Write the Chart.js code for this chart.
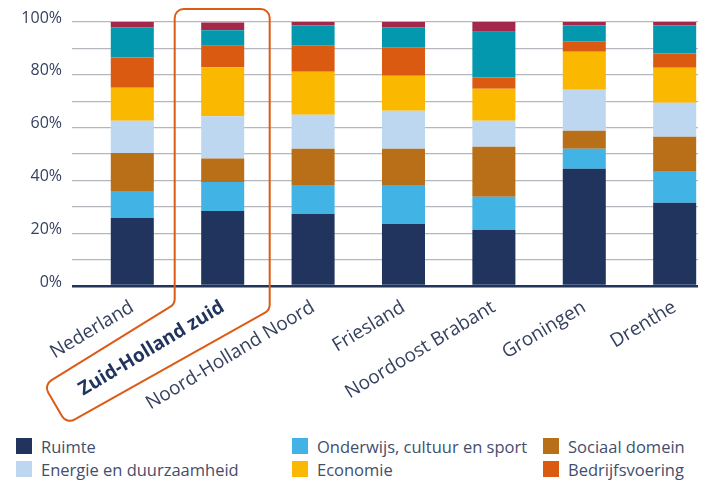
<!DOCTYPE html>
<html>
<head>
<meta charset="utf-8">
<script src="https://cdn.jsdelivr.net/npm/chart.js@4"></script>
<style>
  html, body { margin: 0; padding: 0; background: #fff; }
  body { width: 707px; height: 481px; position: relative; overflow: hidden; font-family: "Open Sans", sans-serif; }
  #wrap { position: absolute; left: 0; top: 0; width: 707px; height: 430px; }
  #legend { position: absolute; left: 16px; top: 435px; display: grid; grid-template-columns: 276px 251px auto; grid-auto-rows: 22.7px; }
  .item { display: flex; align-items: center; font-size: 16.5px; color: #434e6d; white-space: nowrap; }
  .box { width: 16px; height: 16px; margin-right: 9px; flex: none; }
</style>
</head>
<body>
<div id="wrap"><canvas id="chart" width="707" height="430"></canvas></div>
<div id="legend"></div>
<script>
const categories = ["Nederland", "Zuid-Holland zuid", "Noord-Holland Noord", "Friesland", "Noordoost Brabant", "Groningen", "Drenthe"]
const highlightIndex = 1

// aandeel per domein, in %
const ruimte          = [25.8, 28.4, 27.3, 23.5, 21.2, 44.4, 31.5]
const onderwijs       = [10.2, 11.0, 11.0, 14.8, 12.6,  7.6, 12.1]
const sociaal         = [14.4,  8.9, 13.7, 13.7, 18.9,  6.8, 12.9]
const energie         = [12.2, 16.0, 12.9, 14.4,  9.9, 15.5, 12.9]
const economie        = [12.5, 18.6, 16.3, 13.2, 12.1, 14.4, 13.3]
const bedrijfsvoering = [11.5,  8.1, 10.0, 10.8,  4.3,  4.0,  5.4]
const bestuur         = [11.4,  5.9,  7.5,  7.6, 17.3,  6.0, 10.6]
const overig          = [ 2.0,  2.9,  1.3,  2.0,  3.7,  1.3,  1.3]

const yTicks = [0, 20, 40, 60, 80, 100]

const series = [
  { label: "Ruimte", data: ruimte, color: "#21345e", legend: true },
  { label: "Onderwijs, cultuur en sport", data: onderwijs, color: "#41b4e5", legend: true },
  { label: "Sociaal domein", data: sociaal, color: "#b96f17", legend: true },
  { label: "Energie en duurzaamheid", data: energie, color: "#bdd7f1", legend: true },
  { label: "Economie", data: economie, color: "#fab800", legend: true },
  { label: "Bedrijfsvoering", data: bedrijfsvoering, color: "#db5a12", legend: true },
  { label: "Bestuur", data: bestuur, color: "#0398ad", legend: false },
  { label: "Overig", data: overig, color: "#a3284c", legend: false }
]

const textColor = "#35415f"
const navy = "#21345e"

const highlightBox = {
  id: "highlightBox",
  afterDraw(chart) {
    const { ctx, chartArea, scales } = chart
    const cx = scales.x.getPixelForValue(highlightIndex)
    const base = chartArea.bottom
    const pts = [
      [cx - 48, chartArea.top - 13],
      [cx + 47, chartArea.top - 13],
      [cx + 47, base + 24],
      [cx - 156, base + 138],
      [cx - 179, base + 99],
      [cx - 48, base + 18]
    ]
    ctx.save()
    ctx.strokeStyle = "#dd5b14"
    ctx.lineWidth = 2
    ctx.beginPath()
    ctx.moveTo((pts[0][0] + pts[1][0]) / 2, pts[0][1])
    for (let i = 1; i <= pts.length; i++) {
      const p = pts[i % pts.length]
      const q = pts[(i + 1) % pts.length]
      ctx.arcTo(p[0], p[1], q[0], q[1], 9)
    }
    ctx.closePath()
    ctx.stroke()
    ctx.restore()
  }
}

const chart = new Chart(document.getElementById("chart"), {
  type: "bar",
  data: {
    datasets: series.map(s => ({
      label: s.label,
      data: s.data.map((v, i) => ({ x: i, y: v })),
      backgroundColor: s.color,
      borderWidth: 0,
      barPercentage: 0.476,
      categoryPercentage: 1
    }))
  },
  options: {
    responsive: false,
    animation: false,
    layout: { padding: { top: 22, right: 9, left: 0, bottom: 0 } },
    plugins: { legend: { display: false }, tooltip: { enabled: false } },
    scales: {
      x: {
        type: "linear",
        stacked: true,
        offset: false,
        min: -0.667,
        max: 6.258,
        grid: { display: false },
        border: { display: false },
        afterFit: s => { s.height = 144 },
        ticks: {
          stepSize: 1,
          includeBounds: false,
          autoSkip: false,
          minRotation: 31,
          maxRotation: 31,
          padding: 2,
          callback: v => categories[v] ?? "",
          color: c => c.tick && c.tick.value === highlightIndex ? navy : textColor,
          font: c => ({
            family: "Open Sans",
            size: 19,
            weight: c.tick && c.tick.value === highlightIndex ? "700" : "400"
          })
        }
      },
      y: {
        stacked: true,
        min: 0,
        max: 100,
        border: { display: false },
        afterFit: s => { s.width = 72 },
        grid: {
          drawTicks: false,
          color: c => c.tick.value === 0 ? navy : "#b4b8be",
          lineWidth: c => c.tick.value === 0 ? 2.5 : 1.3
        },
        ticks: {
          stepSize: 10,
          autoSkip: false,
          padding: 10,
          labelOffset: -4,
          color: textColor,
          font: { family: "Open Sans", size: 16 },
          callback: v => yTicks.includes(v) ? v + "%" : ""
        }
      }
    }
  },
  plugins: [highlightBox]
})

const legend = document.getElementById("legend")
chart.data.datasets.forEach((ds, i) => {
  if (!series[i].legend) return
  const item = document.createElement("div")
  item.className = "item"
  item.innerHTML = `<span class="box" style="background:${ds.backgroundColor}"></span><span>${ds.label}</span>`
  legend.appendChild(item)
})
</script>
</body>
</html>
